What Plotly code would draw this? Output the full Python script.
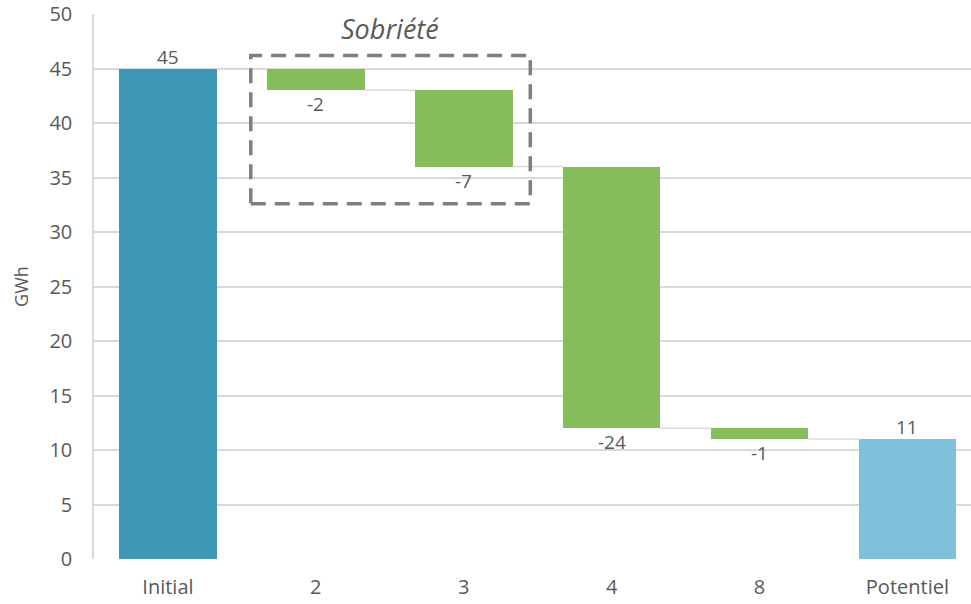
import plotly.graph_objects as go

# Energy waterfall: starting consumption, savings by measure, remaining potential
categories = ["Initial", "2", "3", "4", "8", "Potentiel"]
measures = ["absolute", "relative", "relative", "relative", "relative", "total"]
values = [45, -2, -7, -24, -1, 11]
y_ticks = [0, 5, 10, 15, 20, 25, 30, 35, 40, 45, 50]

COL_START = "#3E98B5"
COL_END = "#7DC1DA"
COL_STEP = "#86BD5B"
TXT = "#595959"
GRID = "#D9D9D9"
FONT = "Open Sans"
BAR_W = 0.66

# running totals -> bar bases and heights
bases, heights, colors, tops, bottoms = [], [], [], [], []
running = 0
for m, v in zip(measures, values):
    if m == "absolute":
        running = v
        bases.append(0); heights.append(v); colors.append(COL_START)
        tops.append(v); bottoms.append(0)
    elif m == "total":
        bases.append(0); heights.append(running); colors.append(COL_END)
        tops.append(running); bottoms.append(0)
    else:
        start = running
        running = start + v
        bases.append(min(start, running)); heights.append(abs(v)); colors.append(COL_STEP)
        tops.append(max(start, running)); bottoms.append(min(start, running))

xs = list(range(len(categories)))

fig = go.Figure()

# connector lines between consecutive bars at the running level
cx, cy = [], []
for i, (m, v) in enumerate(zip(measures, values)):
    if m == "absolute":
        level_after = v
    elif m == "total":
        level_after = tops[i]
    else:
        level_after = bottoms[i] if v < 0 else tops[i]
    if i < len(categories) - 1:
        cx += [xs[i] + BAR_W / 2, xs[i + 1] - BAR_W / 2, None]
        cy += [level_after, level_after, None]
fig.add_trace(go.Scatter(x=cx, y=cy, mode="lines",
                         line=dict(color=GRID, width=1.5),
                         hoverinfo="skip", showlegend=False))

fig.add_trace(go.Bar(x=xs, y=heights, base=bases, width=BAR_W,
                     marker=dict(color=colors, line=dict(width=0)),
                     showlegend=False))

# value labels: totals above, steps below
for i, (m, v) in enumerate(zip(measures, values)):
    if m in ("absolute", "total"):
        fig.add_annotation(x=xs[i], y=tops[i], text=str(v), showarrow=False,
                           yanchor="bottom", yshift=-3,
                           font=dict(family=FONT, size=19, color=TXT))
    else:
        fig.add_annotation(x=xs[i], y=bottoms[i], text=str(v), showarrow=False,
                           yanchor="top", yshift=1,
                           font=dict(family=FONT, size=19, color=TXT))

# "Sobriété" group frame around the first two measures
fig.add_shape(type="rect", x0=0.56, x1=2.45, y0=32.6, y1=46.2,
              line=dict(color="#7F7F7F", width=3.5, dash="15px,9px"),
              fillcolor="rgba(0,0,0,0)")
fig.add_annotation(x=1.5, y=48.7, text="<i>Sobriété</i>", showarrow=False,
                   font=dict(family=FONT, size=27, color=TXT))

fig.update_layout(
    width=971, height=604,
    margin=dict(l=94, r=0, t=14, b=45),
    plot_bgcolor="white", paper_bgcolor="white",
    font=dict(family=FONT, size=20, color=TXT),
    bargap=0,
    xaxis=dict(range=[-0.5, 5.43], tickvals=xs, ticktext=categories,
               showgrid=False, zeroline=False, showline=False,
               ticks="", ticklabelstandoff=14,
               tickfont=dict(family=FONT, size=20, color=TXT)),
    yaxis=dict(range=[0, 50], tickvals=y_ticks, showgrid=True, gridcolor=GRID,
               gridwidth=1.5, zeroline=False, showline=True, linecolor=GRID,
               linewidth=1.5, ticks="", ticklabelstandoff=16,
               tickfont=dict(family=FONT, size=20, color=TXT),
               title=dict(text="GWh", standoff=16,
                          font=dict(family=FONT, size=18, color=TXT))),
)

fig.write_html("out.html")
